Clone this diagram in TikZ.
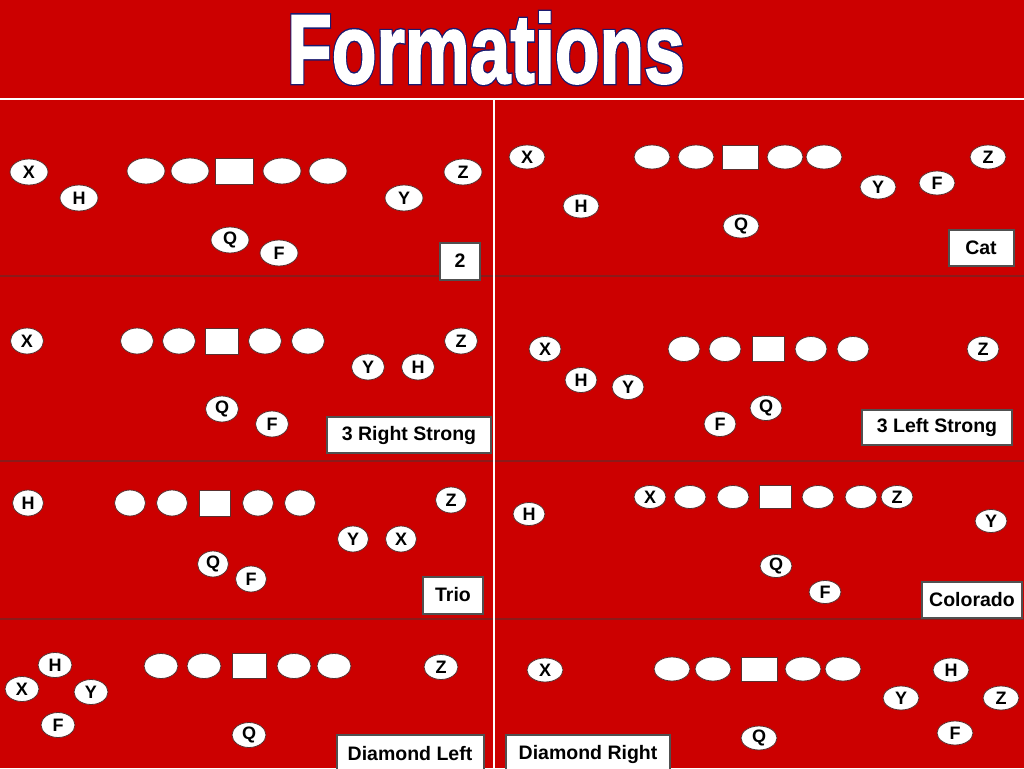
\documentclass[tikz,border=0pt]{standalone}
\usepackage{fontspec}
\setmainfont{Liberation Sans}
\newfontfamily\ttlrim[FakeBold=5]{Liberation Sans Bold}
\newfontfamily\ttlface[FakeBold=2]{Liberation Sans Bold}
\usepackage{tikz}
\usetikzlibrary{shapes.geometric}

\definecolor{field}{HTML}{CC0000}
\definecolor{yardline}{HTML}{8B1A1A}
\definecolor{rim}{HTML}{5A3030}
\definecolor{tagrim}{HTML}{505050}
\definecolor{ink}{HTML}{1A1A70}

\begin{document}
\begin{tikzpicture}[x=1pt, y=-1pt,
    plsz/.style={minimum width=36pt, minimum height=24pt},
    pl/.style={ellipse, fill=white, draw=rim, line width=0.8pt, inner sep=0pt, plsz,
        font=\fontsize{18}{18}\selectfont\bfseries},
    ol/.style={pl},
    ctr/.style={rectangle, fill=white, draw=rim, line width=0.8pt, inner sep=0pt, plsz},
    tag/.style={rectangle, fill=white, draw=tagrim, line width=2pt, inner sep=0pt,
        font=\fontsize{19.5}{19.5}\selectfont\bfseries},
    ttl/.style={anchor=base, inner sep=0pt, xscale=0.745}]
    \useasboundingbox (0,0) rectangle (1024,768);
    \fill[field] (0,0) rectangle (1024,768);

    % title
    \node[ttl, text=ink, font=\fontsize{98}{98}\ttlrim] (ttl-rim) at (486,83) {Formations};
    \node[ttl, text=white, font=\fontsize{98}{98}\ttlface] (ttl) at (486,83) {Formations};

    % grid
    \draw[yardline, line width=2pt] (0,276) -- (1024,276);
    \draw[yardline, line width=2pt] (0,461) -- (1024,461);
    \draw[yardline, line width=2pt] (0,619) -- (1024,619);
    \draw[white, line width=1.2pt] (0,99) -- (1024,99);
    \draw[white, line width=1.2pt] (494,99) -- (494,768);

    % 2
    \begin{scope}[plsz/.style={minimum width=38pt, minimum height=26pt}]
        \foreach \x [count=\i] in {146,190,282,328}
            \node[ol] (a-ol\i) at (\x,171) {};
        \node[ctr] (a-c) at (234,171) {};
        \node[pl] (a-x) at (29,172) {X};
        \node[pl] (a-h) at (79,198) {H};
        \node[pl] (a-z) at (463,172) {Z};
        \node[pl] (a-y) at (404,198) {Y};
        \node[pl] (a-q) at (230,240) {Q};
        \node[pl] (a-f) at (279,253) {F};
        \node[tag, minimum width=40pt, minimum height=37pt] (a-tag) at (460,261) {2};
    \end{scope}

    % Cat
    \begin{scope}[plsz/.style={minimum width=36pt, minimum height=24pt}]
        \foreach \x [count=\i] in {652,696,785,824}
            \node[ol] (b-ol\i) at (\x,157) {};
        \node[ctr] (b-c) at (740,157) {};
        \node[pl] (b-x) at (527,157) {X};
        \node[pl] (b-h) at (581,206) {H};
        \node[pl] (b-y) at (878,187) {Y};
        \node[pl] (b-f) at (937,183) {F};
        \node[pl] (b-z) at (988,157) {Z};
        \node[pl] (b-q) at (741,226) {Q};
        \node[tag, minimum width=65pt, minimum height=36pt] (b-tag) at (981,248) {Cat};
    \end{scope}

    % 3 Right Strong
    \begin{scope}[plsz/.style={minimum width=33pt, minimum height=26pt}]
        \foreach \x [count=\i] in {137,179,265,308}
            \node[ol] (c-ol\i) at (\x,341) {};
        \node[ctr] (c-c) at (222,341) {};
        \node[pl] (c-x) at (27,341) {X};
        \node[pl] (c-z) at (461,341) {Z};
        \node[pl] (c-y) at (368,367) {Y};
        \node[pl] (c-h) at (418,367) {H};
        \node[pl] (c-q) at (222,409) {Q};
        \node[pl] (c-f) at (272,424) {F};
        \node[tag, minimum width=164pt, minimum height=36pt] (c-tag) at (409,435) {3 Right Strong};
    \end{scope}

    % 3 Left Strong
    \begin{scope}[plsz/.style={minimum width=32pt, minimum height=25pt}]
        \foreach \x [count=\i] in {684,725,811,853}
            \node[ol] (d-ol\i) at (\x,349) {};
        \node[ctr] (d-c) at (768,349) {};
        \node[pl] (d-x) at (545,349) {X};
        \node[pl] (d-h) at (581,380) {H};
        \node[pl] (d-y) at (628,387) {Y};
        \node[pl] (d-z) at (983,349) {Z};
        \node[pl] (d-q) at (766,408) {Q};
        \node[pl] (d-f) at (720,424) {F};
        \node[tag, minimum width=150pt, minimum height=35pt] (d-tag) at (937,427) {3 Left Strong};
    \end{scope}

    % Trio
    \begin{scope}[plsz/.style={minimum width=31pt, minimum height=26pt}]
        \foreach \x [count=\i] in {130,172,258,300}
            \node[ol] (e-ol\i) at (\x,503) {};
        \node[ctr] (e-c) at (215,503) {};
        \node[pl] (e-h) at (28,503) {H};
        \node[pl] (e-z) at (451,500) {Z};
        \node[pl] (e-y) at (353,539) {Y};
        \node[pl] (e-x) at (401,539) {X};
        \node[pl] (e-q) at (213,564) {Q};
        \node[pl] (e-f) at (251,579) {F};
        \node[tag, minimum width=60pt, minimum height=37pt] (e-tag) at (453,595) {Trio};
    \end{scope}

    % Colorado
    \begin{scope}[plsz/.style={minimum width=32pt, minimum height=23pt}]
        \foreach \x [count=\i] in {690,733,818,861}
            \node[ol] (f-ol\i) at (\x,497) {};
        \node[ctr] (f-c) at (775,497) {};
        \node[pl] (f-h) at (529,514) {H};
        \node[pl] (f-x) at (650,497) {X};
        \node[pl] (f-z) at (897,497) {Z};
        \node[pl] (f-y) at (991,521) {Y};
        \node[pl] (f-q) at (776,566) {Q};
        \node[pl] (f-f) at (825,592) {F};
        \node[tag, minimum width=100pt, minimum height=36pt] (f-tag) at (972,600) {Colorado};
    \end{scope}

    % Diamond Left
    \begin{scope}[plsz/.style={minimum width=34pt, minimum height=25pt}]
        \foreach \x [count=\i] in {161,204,294,334}
            \node[ol] (g-ol\i) at (\x,666) {};
        \node[ctr] (g-c) at (249,666) {};
        \node[pl] (g-h) at (55,665) {H};
        \node[pl] (g-x) at (22,689) {X};
        \node[pl] (g-y) at (91,692) {Y};
        \node[pl] (g-f) at (58,725) {F};
        \node[pl] (g-z) at (441,667) {Z};
        \node[pl] (g-q) at (249,735) {Q};
        \node[tag, minimum width=147pt, minimum height=38pt] (g-tag) at (410,754) {Diamond Left};
    \end{scope}

    % Diamond Right
    \begin{scope}[plsz/.style={minimum width=36pt, minimum height=24pt}]
        \foreach \x [count=\i] in {672,713,803,843}
            \node[ol] (h-ol\i) at (\x,669) {};
        \node[ctr] (h-c) at (759,669) {};
        \node[pl] (h-x) at (545,670) {X};
        \node[pl] (h-h) at (951,670) {H};
        \node[pl] (h-y) at (901,698) {Y};
        \node[pl] (h-z) at (1001,698) {Z};
        \node[pl] (h-f) at (955,733) {F};
        \node[pl] (h-q) at (759,738) {Q};
        \node[tag, minimum width=164pt, minimum height=38pt] (h-tag) at (588,754) {Diamond Right};
    \end{scope}
\end{tikzpicture}
\end{document}
